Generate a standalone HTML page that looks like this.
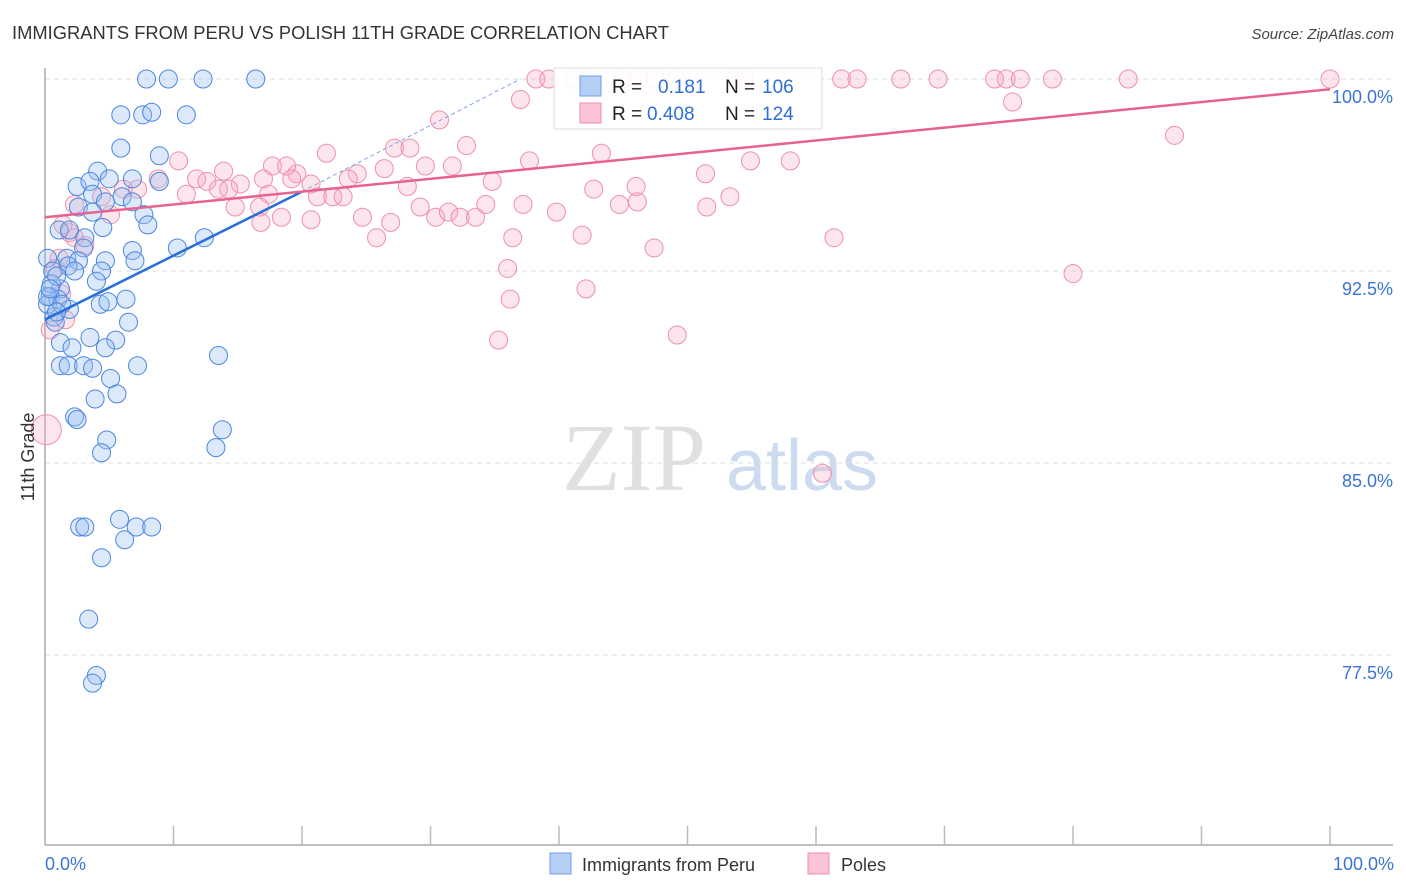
<!DOCTYPE html>
<html><head><meta charset="utf-8">
<style>
body{margin:0;background:#fff;font-family:"Liberation Sans",sans-serif;}
svg{display:block}
</style></head>
<body>
<svg id="chart" width="1406" height="892" viewBox="0 0 1406 892">
<text x="12" y="39" font-size="18" fill="#333" textLength="657" lengthAdjust="spacingAndGlyphs">IMMIGRANTS FROM PERU VS POLISH 11TH GRADE CORRELATION CHART</text>
<text x="1394" y="39" font-size="15" fill="#444" font-style="italic" text-anchor="end">Source: ZipAtlas.com</text>
<text x="634" y="490" font-size="96" fill="#e0e0e0" font-family="Liberation Serif,serif" text-anchor="middle">ZIP</text>
<text x="802" y="490" font-size="72" fill="#cddbf0" text-anchor="middle">atlas</text>
<g id="grid"></g>
<g id="axes"></g>
<g id="points"></g>
<g id="trends"></g>
<text transform="translate(34,457) rotate(-90)" font-size="18" fill="#333" text-anchor="middle">11th Grade</text>
<g>
<rect x="554" y="68" width="268" height="61" fill="#fff" fill-opacity="0.9" stroke="#ddd"/>
<rect x="580" y="76" width="21" height="20" fill="#b5cff5" stroke="#6f9ee6"/>
<rect x="580" y="103" width="21" height="20" fill="#fbc3d3" stroke="#ee8fae"/>
<text x="612" y="93" font-size="19" fill="#222">R = </text><text x="658" y="93" font-size="19" fill="#2f6fd6">0.181</text>
<text x="725" y="93" font-size="19" fill="#222">N = </text><text x="762" y="93" font-size="19" fill="#2f6fd6">106</text>
<text x="612" y="120" font-size="19" fill="#222">R = </text><text x="647" y="120" font-size="19" fill="#2f6fd6">0.408</text>
<text x="725" y="120" font-size="19" fill="#222">N = </text><text x="762" y="120" font-size="19" fill="#2f6fd6">124</text>
</g>
<g>
<rect x="550" y="853" width="21" height="21" fill="#b5cff5" stroke="#6f9ee6"/>
<text x="582" y="871" font-size="18" fill="#333">Immigrants from Peru</text>
<rect x="808" y="853" width="21" height="21" fill="#fbc3d3" stroke="#ee8fae"/>
<text x="841" y="871" font-size="18" fill="#333">Poles</text>
</g>
</svg>
<script>
const peruX=[7.9,9.6,12.3,16.4,5.9,7.6,8.3,11.0,5.9,8.9,4.1,2.5,3.5,5.0,6.8,8.9,6.0,3.7,4.7,2.6,6.8,7.7,8.0,3.7,4.5,1.1,1.9,3.1,3.0,6.8,7.0,10.3,12.4,0.2,1.7,2.6,1.8,4.7,0.6,2.3,4.4,4.0,1.2,0.4,1.0,1.9,4.3,4.9,6.3,0.7,6.5,3.5,1.2,2.1,5.5,4.7,13.5,1.2,1.8,3.0,3.7,7.2,5.1,5.6,3.9,2.3,2.5,4.8,4.4,13.8,13.3,2.7,3.1,5.8,7.1,8.3,6.2,4.4,3.4,4.0,3.7,0.2,0.5,0.9,0.2,0.8,0.4,1.3,0.9];
const peruY=[100,100,100,100,98.6,98.6,98.7,98.6,97.3,97.0,96.4,95.8,96.0,96.1,96.1,96.0,95.4,95.5,95.2,95.0,95.2,94.7,94.3,94.8,94.2,94.1,94.1,93.8,93.4,93.3,92.9,93.4,93.8,93.0,93.0,92.9,92.7,92.9,92.5,92.5,92.5,92.1,91.8,91.5,91.4,91.0,91.2,91.3,91.4,90.7,90.5,89.9,89.7,89.5,89.8,89.5,89.2,88.8,88.8,88.8,88.7,88.8,88.3,87.7,87.5,86.8,86.7,85.9,85.4,86.3,85.6,82.5,82.5,82.8,82.5,82.5,82.0,81.3,78.9,76.7,76.4,91.2,92.0,92.3,91.5,90.5,91.8,91.2,90.9];
const polesX=[38.2,39.2,41.2,42.3,44.9,46.2,47.5,49.1,53.7,54.4,62.0,63.2,66.6,69.5,73.9,74.8,75.9,78.4,84.3,100,37.0,75.3,87.9,30.7,32.8,27.2,28.4,21.9,10.4,13.9,19.6,17.7,18.8,37.7,43.3,54.9,58.0,29.6,31.7,26.4,24.3,23.6,11.8,8.8,15.2,12.6,13.5,17.0,19.2,20.7,28.2,34.8,42.7,46.0,51.4,7.2,6.1,4.4,2.3,11.0,14.3,17.4,21.2,22.4,23.2,37.2,39.8,44.7,46.1,51.5,53.3,14.8,16.7,16.8,18.4,20.7,24.7,29.2,30.4,31.4,32.3,33.5,34.3,5.1,25.8,26.9,36.4,41.8,47.4,61.4,36.0,80.0,42.1,36.2,35.3,49.2,60.5,1.9,1.4,1.1,0.8,2.3,1.6,0.4,1.3,3.1,0.1];
const polesY=[100,100,100,100,100,100,100,100,100,100,100,100,100,100,100,100,100,100,100,100,99.2,99.1,97.8,98.4,97.4,97.3,97.3,97.1,96.8,96.4,96.3,96.6,96.6,96.8,97.1,96.8,96.8,96.6,96.6,96.5,96.3,96.1,96.1,96.1,95.9,96.0,95.7,96.1,96.1,95.9,95.8,96.0,95.7,95.8,96.3,95.7,95.7,95.4,95.1,95.5,95.7,95.5,95.4,95.4,95.4,95.1,94.8,95.1,95.2,95.0,95.4,95.0,95.0,94.4,94.6,94.5,94.6,95.0,94.6,94.8,94.6,94.6,95.1,94.7,93.8,94.4,93.8,93.9,93.4,93.8,92.6,92.4,91.8,91.4,89.8,90.0,84.6,94.0,94.3,93.0,92.6,93.8,90.6,90.2,91.6,93.5,86.3];
const yTicks=[100,92.5,85,77.5];
const yTickLabels=["100.0%","92.5%","85.0%","77.5%"];
const xTickLabels=["0.0%","100.0%"];
const peruTrend=[[0,90.6],[20,95.6]];
const peruTrendDash=[[20,95.6],[37,100]];
const polesTrend=[[0,94.6],[100,99.6]];

const NS="http://www.w3.org/2000/svg";
const X0=45,X1=1330,Y100=79,PXPER=192/7.5;
function sx(v){return X0+(X1-X0)*v/100;}
function sy(v){return Y100+(100-v)*PXPER;}
function mk(tag,attrs,parent){const e=document.createElementNS(NS,tag);for(const k in attrs)e.setAttribute(k,attrs[k]);parent.appendChild(e);return e;}
const grid=document.getElementById('grid'),axes=document.getElementById('axes'),pts=document.getElementById('points'),tr=document.getElementById('trends');
yTicks.forEach((t,i)=>{
  const l=mk('line',{x1:X0,x2:1393,y1:sy(t),y2:sy(t),stroke:'#ddd','stroke-dasharray':'5,4'},grid);
  
  
  const tx=mk('text',{x:1393,y:sy(t)+24,'font-size':18,fill:'#3b74d6','text-anchor':'end'},grid);
  tx.textContent=yTickLabels[i];
  
  
});
const ya=mk('line',{x1:X0,x2:X0,y1:68,y2:845,stroke:'#aaa','stroke-width':1.5},axes);


const xa=mk('line',{x1:X0,x2:1393,y1:845,y2:845,stroke:'#aaa','stroke-width':1.5},axes);


for(let i=1;i<=10;i++){
  const t=mk('line',{x1:sx(i*10),x2:sx(i*10),y1:826,y2:845,stroke:'#bbb','stroke-width':1.5},axes);
  
  
}
const xl0=mk('text',{x:45,y:870,'font-size':18,fill:'#3b74d6'},axes);xl0.textContent=xTickLabels[0];


const xl1=mk('text',{x:1394,y:870,'font-size':18,fill:'#3b74d6','text-anchor':'end'},axes);xl1.textContent=xTickLabels[1];


polesX.forEach((x,i)=>{
  const big=i===polesX.length-1;
  const c=mk('circle',{cx:sx(x),cy:sy(polesY[i]),r:big?15:9,fill:'#f7a8c0','fill-opacity':0.3,stroke:'#ee8fae','stroke-width':1},pts);
  
  
});
peruX.forEach((x,i)=>{
  const c=mk('circle',{cx:sx(x),cy:sy(peruY[i]),r:9,fill:'#9cc0f0','fill-opacity':0.35,stroke:'#4a86e0','stroke-width':1},pts);
  
  
});
const l1=mk('line',{x1:sx(peruTrend[0][0]),y1:sy(peruTrend[0][1]),x2:sx(peruTrend[1][0]),y2:sy(peruTrend[1][1]),stroke:'#2a6fd8','stroke-width':2.5},tr);


const l2=mk('line',{x1:sx(peruTrendDash[0][0]),y1:sy(peruTrendDash[0][1]),x2:sx(peruTrendDash[1][0]),y2:sy(peruTrendDash[1][1]),stroke:'#7aa4e4','stroke-width':1,'stroke-dasharray':'4,3'},tr);


const l3=mk('line',{x1:sx(polesTrend[0][0]),y1:sy(polesTrend[0][1]),x2:sx(polesTrend[1][0]),y2:sy(polesTrend[1][1]),stroke:'#e8628f','stroke-width':2.5},tr);


</script>
</body></html>
